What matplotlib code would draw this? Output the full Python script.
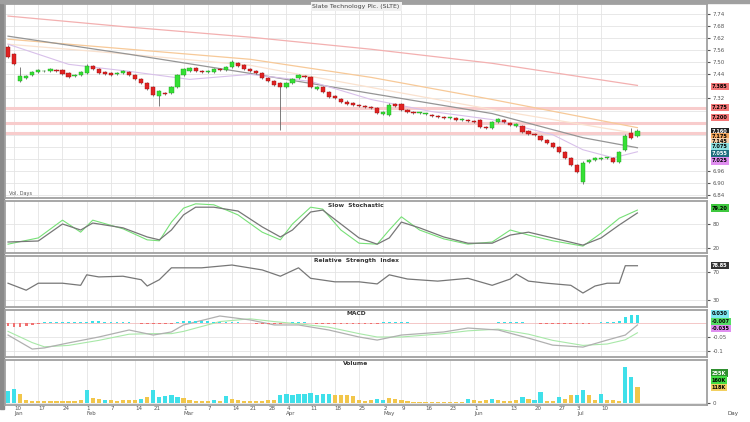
import numpy as np
import matplotlib.pyplot as plt
from matplotlib.patches import Rectangle

title = "Slate Technology Plc. (SLTE)"

# daily OHLC
opens = [7.575, 7.540, 7.405, 7.420, 7.435, 7.450, 7.455, 7.455, 7.460, 7.460,
         7.445, 7.430, 7.435, 7.445, 7.480, 7.465, 7.450, 7.445, 7.440, 7.445,
         7.450, 7.435, 7.415, 7.395, 7.375, 7.330, 7.345, 7.345, 7.375, 7.435,
         7.455, 7.470, 7.455, 7.450, 7.450, 7.465, 7.460, 7.475, 7.495, 7.485,
         7.465, 7.455, 7.445, 7.420, 7.405, 7.395, 7.375, 7.395, 7.420, 7.430,
         7.425, 7.365, 7.375, 7.350, 7.330, 7.315, 7.305, 7.300, 7.290, 7.285,
         7.280, 7.275, 7.245, 7.240, 7.295, 7.295, 7.265, 7.255, 7.250, 7.245,
         7.240, 7.235, 7.230, 7.225, 7.225, 7.215, 7.215, 7.210, 7.215, 7.180,
         7.175, 7.205, 7.215, 7.200, 7.185, 7.185, 7.160, 7.145, 7.135, 7.115,
         7.100, 7.080, 7.055, 7.025, 6.990, 6.905, 7.005, 7.015, 7.020, 7.025,
         7.025, 7.005, 7.065, 7.150, 7.135]
closes = [7.525, 7.490, 7.430, 7.430, 7.450, 7.460, 7.455, 7.465, 7.455, 7.440,
          7.425, 7.435, 7.450, 7.480, 7.465, 7.445, 7.440, 7.435, 7.445, 7.455,
          7.435, 7.415, 7.395, 7.365, 7.335, 7.355, 7.340, 7.375, 7.435, 7.465,
          7.470, 7.455, 7.450, 7.455, 7.465, 7.460, 7.475, 7.500, 7.480, 7.465,
          7.455, 7.445, 7.420, 7.405, 7.385, 7.375, 7.395, 7.415, 7.435, 7.425,
          7.375, 7.375, 7.350, 7.325, 7.320, 7.305, 7.295, 7.290, 7.285, 7.280,
          7.275, 7.250, 7.255, 7.290, 7.285, 7.265, 7.255, 7.250, 7.250, 7.245,
          7.235, 7.230, 7.225, 7.225, 7.215, 7.220, 7.210, 7.205, 7.180, 7.175,
          7.205, 7.220, 7.205, 7.190, 7.195, 7.155, 7.145, 7.140, 7.115, 7.100,
          7.080, 7.055, 7.025, 6.990, 6.955, 7.000, 7.015, 7.025, 7.025, 7.025,
          7.005, 7.055, 7.135, 7.125, 7.160]
highs = [7.585, 7.545, 7.475, 7.435, 7.455, 7.465, 7.460, 7.470, 7.465, 7.465,
         7.450, 7.440, 7.455, 7.490, 7.485, 7.470, 7.455, 7.450, 7.450, 7.460,
         7.455, 7.440, 7.420, 7.400, 7.380, 7.360, 7.350, 7.380, 7.440, 7.470,
         7.475, 7.475, 7.460, 7.460, 7.470, 7.470, 7.480, 7.510, 7.500, 7.490,
         7.470, 7.460, 7.450, 7.425, 7.410, 7.400, 7.400, 7.420, 7.440, 7.435,
         7.430, 7.380, 7.380, 7.355, 7.335, 7.320, 7.310, 7.305, 7.295, 7.290,
         7.285, 7.280, 7.260, 7.300, 7.300, 7.300, 7.270, 7.260, 7.255, 7.250,
         7.245, 7.240, 7.235, 7.230, 7.230, 7.225, 7.220, 7.215, 7.220, 7.185,
         7.210, 7.225, 7.220, 7.205, 7.200, 7.190, 7.165, 7.150, 7.140, 7.120,
         7.105, 7.085, 7.060, 7.030, 6.995, 7.010, 7.020, 7.030, 7.030, 7.030,
         7.030, 7.060, 7.145, 7.175, 7.170]
lows = [7.520, 7.485, 7.400, 7.415, 7.430, 7.445, 7.450, 7.450, 7.450, 7.435,
        7.420, 7.425, 7.430, 7.440, 7.460, 7.440, 7.435, 7.430, 7.435, 7.440,
        7.430, 7.410, 7.390, 7.360, 7.330, 7.285, 7.335, 7.340, 7.370, 7.430,
        7.450, 7.450, 7.445, 7.445, 7.445, 7.455, 7.455, 7.470, 7.475, 7.460,
        7.450, 7.440, 7.415, 7.400, 7.380, 7.165, 7.370, 7.390, 7.415, 7.420,
        7.370, 7.360, 7.345, 7.320, 7.315, 7.300, 7.290, 7.285, 7.280, 7.275,
        7.270, 7.245, 7.240, 7.235, 7.280, 7.260, 7.250, 7.245, 7.245, 7.240,
        7.230, 7.225, 7.220, 7.220, 7.210, 7.210, 7.205, 7.200, 7.175, 7.170,
        7.170, 7.200, 7.200, 7.185, 7.180, 7.150, 7.140, 7.135, 7.110, 7.095,
        7.075, 7.050, 7.020, 6.985, 6.950, 6.895, 7.000, 7.010, 7.015, 7.020,
        7.000, 7.000, 7.060, 7.120, 7.130]

volume = [120, 140, 90, 30, 25, 20, 20, 25, 20, 20,
          20, 25, 30, 130, 50, 40, 35, 30, 25, 30,
          30, 35, 45, 60, 130, 60, 70, 80, 60, 50,
          30, 25, 20, 25, 30, 20, 70, 40, 30, 25,
          20, 20, 25, 30, 35, 80, 90, 85, 95, 90,
          100, 85, 95, 90, 80, 85, 80, 75, 30, 25,
          30, 40, 35, 50, 40, 35, 20, 15, 15, 15,
          15, 15, 15, 15, 15, 15, 40, 30, 25, 30,
          40, 30, 25, 20, 30, 60, 40, 30, 110, 20,
          25, 60, 40, 80, 80, 130, 80, 30, 90, 30,
          30, 25, 360, 260, 160]
# u = cyan bar, d = yellow bar
vol_dir = ("uudddddddd" "dddudduddd" "dduduuuuud" "ddddududdd" "ddddduuuuu"
           "uuuudddddd" "duuddddddd" "dddddduddd" "udddduduud" "dudduuddud" "dduud")

# moving averages (sampled at candle index)
ma_idx = [0, 20, 40, 60, 80, 104]
ma200 = [7.730, 7.675, 7.625, 7.565, 7.495, 7.385]
ma_orange = [7.615, 7.565, 7.515, 7.425, 7.315, 7.175]
ma_peach = [7.590, 7.540, 7.485, 7.375, 7.265, 7.145]
ma_gray_idx = [0, 20, 40, 60, 80, 95, 104]
ma_gray = [7.630, 7.540, 7.445, 7.345, 7.245, 7.125, 7.075]
ma_lilac_idx = [0, 10, 20, 30, 40, 50, 60, 70, 80, 90, 95, 100, 104]
ma_lilac = [7.590, 7.490, 7.455, 7.415, 7.440, 7.405, 7.315, 7.255, 7.215, 7.140, 7.065, 7.025, 7.055]
levels = [7.275, 7.200, 7.150]

# slow stochastic
sto_idx = [0, 5, 9, 12, 14, 19, 23, 25, 27, 29, 31, 34, 38, 42, 45, 47, 50, 52, 55,
           58, 61, 63, 65, 68, 72, 76, 80, 83, 86, 90, 95, 98, 101, 104]
sto_d = [12.5, 14.6, 50, 37.5, 52, 42, 23, 17, 37.5, 69, 85, 85, 77, 44, 23, 37.5, 75, 79, 50,
         21, 8, 21, 54, 42, 23, 10, 10, 27, 33, 21, 6, 21, 48, 73]
sto_k = [8, 21, 58, 33, 58, 40, 17, 15, 54, 83, 92, 90, 69, 33, 17, 50, 85, 81, 37.5,
         10, 8, 37.5, 65, 37.5, 19, 8, 12.5, 37.5, 27, 15, 4, 31, 62, 79]

# RSI
rsi_idx = [0, 3, 5, 9, 12, 13, 15, 19, 22, 23, 25, 27, 32, 37, 42, 45, 48, 50, 54, 58,
           61, 63, 66, 71, 76, 80, 83, 84, 86, 89, 93, 95, 97, 99, 101, 102, 104]
rsi = [54, 44, 54, 54, 51, 66, 63, 64, 59, 50, 59, 76, 76, 80, 73, 64, 76, 61, 56, 56,
       53, 66, 60, 57, 61, 51, 60, 67, 57, 54, 51, 40, 50, 54, 54, 79, 79]

# MACD
macd_idx = [0, 4, 6, 10, 15, 20, 24, 27, 29, 35, 40, 44, 48, 53, 58, 61, 65, 72, 76, 81,
            86, 90, 95, 99, 102, 104]
macd = [-0.043, -0.093, -0.089, -0.071, -0.050, -0.025, -0.043, -0.032, -0.007, 0.025,
        0.011, -0.007, -0.007, -0.025, -0.050, -0.061, -0.043, -0.032, -0.018, -0.025,
        -0.054, -0.079, -0.086, -0.061, -0.043, -0.007]
signal = [-0.030, -0.070, -0.085, -0.080, -0.062, -0.040, -0.038, -0.038, -0.030, 0.005,
          0.015, 0.005, -0.003, -0.015, -0.038, -0.050, -0.050, -0.038, -0.028, -0.022,
          -0.040, -0.062, -0.080, -0.075, -0.060, -0.035]
hist = [-12, -15, -15, -12, -8, -4,
        2, 2, 3, 3, 2, 2, 3, 4, 6, 6, 5, 4, 3, 2, 2, 1,
        -2, -3, -4, -4, -3, -2,
        3, 6, 8, 8, 7, 6, 5, 4, 4, 3, 2, 1,
        -1, -2, -2, -3, -3, -2, -1,
        2, 3, 2,
        -1, -2, -3, -3, -4, -4, -4, -3, -3, -3, -2, -2,
        2, 4, 5, 4, 3,
        1, 1, 1, 1, 1, 1, 1, 1, 1, 1, 1, 1, 1, 1,
        3, 4, 4, 3, 2, 1,
        -1, -2, -3, -4, -4, -5, -5, -4, -3, -2, -1,
        3, 4, 5, 6, 22, 28, 30]

tick_pos = [1, 5, 9, 13, 17, 21, 24, 29, 33, 37, 40, 43, 46, 50, 54, 58, 62, 65, 69,
            73, 77, 83, 87, 91, 94, 98]
day_labels = ["10", "17", "24", "1", "7", "14", "21", "1", "7", "14", "21", "28", "4",
              "11", "18", "25", "2", "9", "16", "23", "1", "13", "20", "27", "3", "10"]
month_labels = {1: "Jan", 13: "Feb", 29: "Mar", 46: "Apr", 62: "May", 77: "Jun", 94: "Jul"}

n = len(closes)
idx = np.arange(n)
o = np.array(opens); c = np.array(closes)

W, H = 750, 422
fig = plt.figure(figsize=(7.5, 4.22), dpi=100)
fig.patch.set_facecolor("white")


def rect(top, bottom):
    return [5 / W, 1 - bottom / H, 702 / W, (bottom - top) / H]


GRID = "#e4e4e4"
SPINE = "#a0a0a0"
FS = 4


def style(ax):
    ax.set_xlim(-0.5, 115.5)
    ax.set_facecolor("white")
    for s in ax.spines.values():
        s.set_color(SPINE)
        s.set_linewidth(1.3)
    ax.yaxis.tick_right()
    ax.tick_params(axis="y", labelsize=FS, length=2, colors="#555555", pad=2)
    ax.tick_params(axis="x", length=0, labelbottom=False)
    ax.set_xticks(tick_pos)
    ax.grid(True, color=GRID, linewidth=0.6)
    ax.set_axisbelow(True)


def tag(ax, y, text, fc, tc="black"):
    ax.text(1.007, y, text, transform=ax.get_yaxis_transform(), fontsize=3.6,
            color=tc, va="center", ha="left", fontweight="bold",
            bbox=dict(boxstyle="square,pad=0.25", fc=fc, ec="none"), clip_on=False)


def title_txt(ax, text):
    ax.text(0.5, 0.97, text, transform=ax.transAxes, ha="center", va="top",
            fontsize=4.3, color="#333333", fontweight="bold")


# ---- price
ax = fig.add_axes(rect(4, 198))
style(ax)
ax.set_ylim(6.825, 7.79)
pt = [7.74, 7.68, 7.62, 7.56, 7.50, 7.44, 7.32, 6.96, 6.90, 6.84]
ax.set_yticks(pt)
ax.set_yticklabels(["%.2f" % v for v in pt])
ax.set_yticks(np.arange(6.84, 7.78, 0.06), minor=True)
ax.grid(True, which="minor", axis="y", color=GRID, linewidth=0.6)
ax.tick_params(axis="y", which="minor", length=0)
for lv in levels:
    ax.axhline(lv, color="#f8cccc", linewidth=2.2, zorder=1)
ax.plot(ma_idx, ma200, color="#f3b0b0", linewidth=0.9)
ax.plot(ma_idx, ma_peach, color="#fae2cf", linewidth=0.9)
ax.plot(ma_idx, ma_orange, color="#f7c998", linewidth=0.9)
ax.plot(ma_gray_idx, ma_gray, color="#959595", linewidth=0.9)
ax.plot(ma_lilac_idx, ma_lilac, color="#d8c0ea", linewidth=0.8)
up = c >= o
ax.vlines(idx, lows, highs, color="#666666", linewidth=0.6, zorder=2)
body = np.where(np.abs(c - o) < 0.003, 0.003, c - o)
ax.bar(idx, body, bottom=o, width=0.7, color=np.where(up, "#35e035", "#e02222"),
       edgecolor=np.where(up, "#1fa01f", "#a01010"), linewidth=0.3, zorder=3)
ax.text(0.5, 1.0, title, transform=ax.transAxes, ha="center", va="top", fontsize=4.5,
        color="#444444", bbox=dict(boxstyle="square,pad=0.3", fc="#f0f0f0", ec="none"))
ax.text(0.006, 0.01, "Vol. Days", transform=ax.transAxes, fontsize=3.6, color="#555555",
        va="bottom")
tag(ax, 7.380, "7.385", "#f47878")
tag(ax, 7.275, "7.275", "#f47878")
tag(ax, 7.225, "7.200", "#f47878")
tag(ax, 7.155, "7.160", "#222222", "white")
tag(ax, 7.130, "7.175", "#f5a860")
tag(ax, 7.105, "7.145", "#f8cfa8")
tag(ax, 7.080, "7.075", "#8ee0e0")
tag(ax, 7.045, "7.055", "#1f6f7f", "white")
tag(ax, 7.010, "7.025", "#e08ef0")

# ---- slow stochastic
ax = fig.add_axes(rect(201, 253))
style(ax)
ax.set_ylim(-10.4, 97.9)
ax.set_yticks([0, 50])
ax.set_yticklabels(["20", "80"])
ax.plot(sto_idx, sto_k, color="#77e077", linewidth=0.8)
ax.plot(sto_idx, sto_d, color="#777777", linewidth=0.9)
title_txt(ax, "Slow  Stochastic")
tag(ax, 83, "79.20", "#3ec83e")

# ---- RSI
ax = fig.add_axes(rect(256, 307))
style(ax)
ax.set_ylim(20, 92.9)
ax.set_yticks([30, 70])
ax.plot(rsi_idx, rsi, color="#777777", linewidth=0.9)
title_txt(ax, "Relative  Strength  Index")
tag(ax, 79, "78.85", "#333333", "white")

# ---- MACD
ax = fig.add_axes(rect(310, 357))
style(ax)
ax.set_ylim(-0.1214, 0.0464)
ax.set_yticks([-0.1, -0.05])
ax.set_yticklabels(["-0.1", "-0.05"])
hv = np.array(hist) / 1000
ax.bar(idx, hv, width=0.45, color=np.where(hv >= 0, "#38e0e8", "#f07070"), zorder=3)
ax.axhline(0, color="#f0b0b0", linewidth=0.5, zorder=2)
ax.plot(macd_idx, signal, color="#a8e8a8", linewidth=0.8)
ax.plot(macd_idx, macd, color="#b0b0b0", linewidth=0.9)
title_txt(ax, "MACD")
tag(ax, 0.033, "0.030", "#7ee8f0")
tag(ax, 0.005, "-0.007", "#55dd66")
tag(ax, -0.020, "-0.035", "#e08ef0")

# ---- volume
ax = fig.add_axes(rect(360, 405))
style(ax)
ax.set_ylim(-15, 430)
ax.set_yticks([0])
vcol = ["#3fe0ea" if d == "u" else "#f2c64a" for d in vol_dir]
ax.bar(idx, volume, width=0.7, color=vcol, zorder=3)
title_txt(ax, "Volume")
tag(ax, 300, "255K", "#2f8f2f", "white")
tag(ax, 230, "160K", "#44dd44")
tag(ax, 160, "118K", "#f2d060")
ax.tick_params(axis="x", labelbottom=True, labelsize=FS, colors="#555555", pad=1)
ax.set_xticklabels([d + "\n" + month_labels.get(p, "") for p, d in zip(tick_pos, day_labels)],
                   ha="left", linespacing=1.0)

fig.text(0.985, 0.015, "Day", fontsize=FS, color="#444444", ha="right", va="bottom")
fig.add_artist(Rectangle((0, 0.03), 4 / W, 0.97, transform=fig.transFigure,
                         color="#8a8a8a", zorder=0))
fig.add_artist(Rectangle((0, 1 - 3 / H), 1, 3 / H, transform=fig.transFigure,
                         color="#a0a0a0", zorder=0))

fig.savefig("out.png", dpi=100)
